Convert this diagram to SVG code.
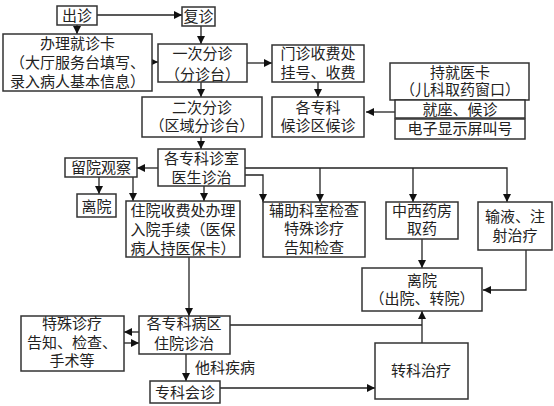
<svg xmlns="http://www.w3.org/2000/svg" width="554" height="406" viewBox="0 0 554 406">
<style>
rect{fill:#fff;stroke:#333;stroke-width:1.5}
text{font-family:"Liberation Sans","Noto Sans CJK SC","Noto Sans CJK JP",sans-serif;font-size:15px;fill:#222;text-anchor:middle}
.c path{fill:none;stroke:#222;stroke-width:1.3}
</style>
<defs>
<marker id="a" viewBox="0 0 10 10" refX="10" refY="5" markerWidth="8" markerHeight="8" markerUnits="userSpaceOnUse" orient="auto"><path d="M0,0L10,5L0,10z" fill="#111"/></marker>
</defs>
<rect x="0" y="0" width="554" height="406" style="stroke:none"/>
<g class="c">
<path d="M97,15H182" marker-end="url(#a)"/>
<path d="M77,25V34" marker-end="url(#a)"/>
<path d="M201,26V44" marker-end="url(#a)"/>
<path d="M152,62H158" marker-end="url(#a)"/>
<path d="M247,63H272" marker-end="url(#a)"/>
<path d="M201,82V97" marker-end="url(#a)"/>
<path d="M318,82V97" marker-end="url(#a)"/>
<path d="M395,112H366" marker-end="url(#a)"/>
<path d="M201,137V149" marker-end="url(#a)"/>
<path d="M158,168H137" marker-end="url(#a)"/>
<path d="M99,177V194" marker-end="url(#a)"/>
<path d="M133,177V201" marker-end="url(#a)"/>
<path d="M204,186V201" marker-end="url(#a)"/>
<path d="M245,175H263V202" marker-end="url(#a)"/>
<path d="M245,168H507V202" marker-end="url(#a)"/>
<path d="M320,168V202" marker-end="url(#a)"/>
<path d="M413,168V202" marker-end="url(#a)"/>
<path d="M422,239V268" marker-end="url(#a)"/>
<path d="M526,250V290H483" marker-end="url(#a)"/>
<path d="M189,257V316" marker-end="url(#a)"/>
<path d="M139,332H124" marker-end="url(#a)"/>
<path d="M124,343H139" marker-end="url(#a)"/>
<path d="M230,325H422"/>
<path d="M422,343V311" marker-end="url(#a)"/>
<path d="M186,354V381" marker-end="url(#a)"/>
<path d="M220,388H375" marker-end="url(#a)"/>
</g>
<g id="n1"><rect x="57" y="6" width="40" height="19"/><text x="77" y="21">出诊</text></g>
<g id="n2"><rect x="182" y="7" width="33" height="19"/><text x="198.5" y="22">复诊</text></g>
<g id="n3"><rect x="3" y="34" width="149" height="57"/><text x="77.5" y="48.5">办理就诊卡</text><text x="77.5" y="67.5">（大厅服务台填写、</text><text x="77.5" y="86.5">录入病人基本信息）</text></g>
<g id="n4"><rect x="158" y="44" width="89" height="38"/><text x="202.5" y="58.5">一次分诊</text><text x="202.5" y="79.5">（分诊台）</text></g>
<g id="n5"><rect x="272" y="45" width="92" height="37"/><text x="318" y="58.5">门诊收费处</text><text x="318" y="77.5">挂号、收费</text></g>
<g id="n6"><rect x="142" y="97" width="120" height="40"/><text x="202" y="112.5">二次分诊</text><text x="202" y="130.5">（区域分诊台）</text></g>
<g id="n7"><rect x="272" y="97" width="92" height="40"/><text x="318" y="112.5">各专科</text><text x="318" y="130.5">候诊区候诊</text></g>
<g id="n8"><rect x="390" y="63" width="139" height="37"/><text x="460" y="77.5">持就医卡</text><text x="460" y="94.5">（儿科取药窗口）</text></g>
<g id="n9"><rect x="395" y="100" width="130" height="18"/><text x="460" y="114.5">就座、候诊</text></g>
<g id="n10"><rect x="395" y="119" width="130" height="20"/><text x="460" y="133.5">电子显示屏叫号</text></g>
<g id="n11"><rect x="158" y="149" width="87" height="37"/><text x="201.5" y="163.5">各专科诊室</text><text x="201.5" y="182.5">医生诊治</text></g>
<g id="n12"><rect x="65" y="158" width="72" height="19"/><text x="101" y="172.5">留院观察</text></g>
<g id="n13"><rect x="77" y="194" width="39" height="23"/><text x="96.5" y="211.5">离院</text></g>
<g id="n14"><rect x="126" y="201" width="114" height="56"/><text x="183" y="215.5">住院收费处办理</text><text x="183" y="234.5">入院手续（医保</text><text x="183" y="253.5">病人持医保卡）</text></g>
<g id="n15"><rect x="263" y="202" width="102" height="55"/><text x="314" y="215.5">辅助科室检查</text><text x="314" y="233.5">特殊诊疗</text><text x="314" y="252.5">告知检查</text></g>
<g id="n16"><rect x="386" y="202" width="72" height="37"/><text x="422" y="215.5">中西药房</text><text x="422" y="233.5">取药</text></g>
<g id="n17"><rect x="478" y="202" width="74" height="48"/><text x="515" y="221.5">输液、注</text><text x="515" y="240.5">射治疗</text></g>
<g id="n18"><rect x="362" y="268" width="120" height="43"/><text x="422" y="285.5">离院</text><text x="422" y="303.5">（出院、转院）</text></g>
<g id="n19"><rect x="21" y="316" width="103" height="55"/><text x="72" y="328.5">特殊诊疗</text><text x="72" y="347.5">告知、检查、</text><text x="72" y="365.5">手术等</text></g>
<g id="n20"><rect x="139" y="316" width="91" height="38"/><text x="184" y="328.5">各专科病区</text><text x="184" y="348.5">住院诊治</text></g>
<g id="n21"><rect x="150" y="381" width="70" height="22"/><text x="185" y="397.5">专科会诊</text></g>
<g id="n22"><rect x="375" y="343" width="93" height="56"/><text x="421" y="375.5">转科治疗</text></g>
<text x="195" y="372.5" style="text-anchor:start">他科疾病</text>
</svg>
